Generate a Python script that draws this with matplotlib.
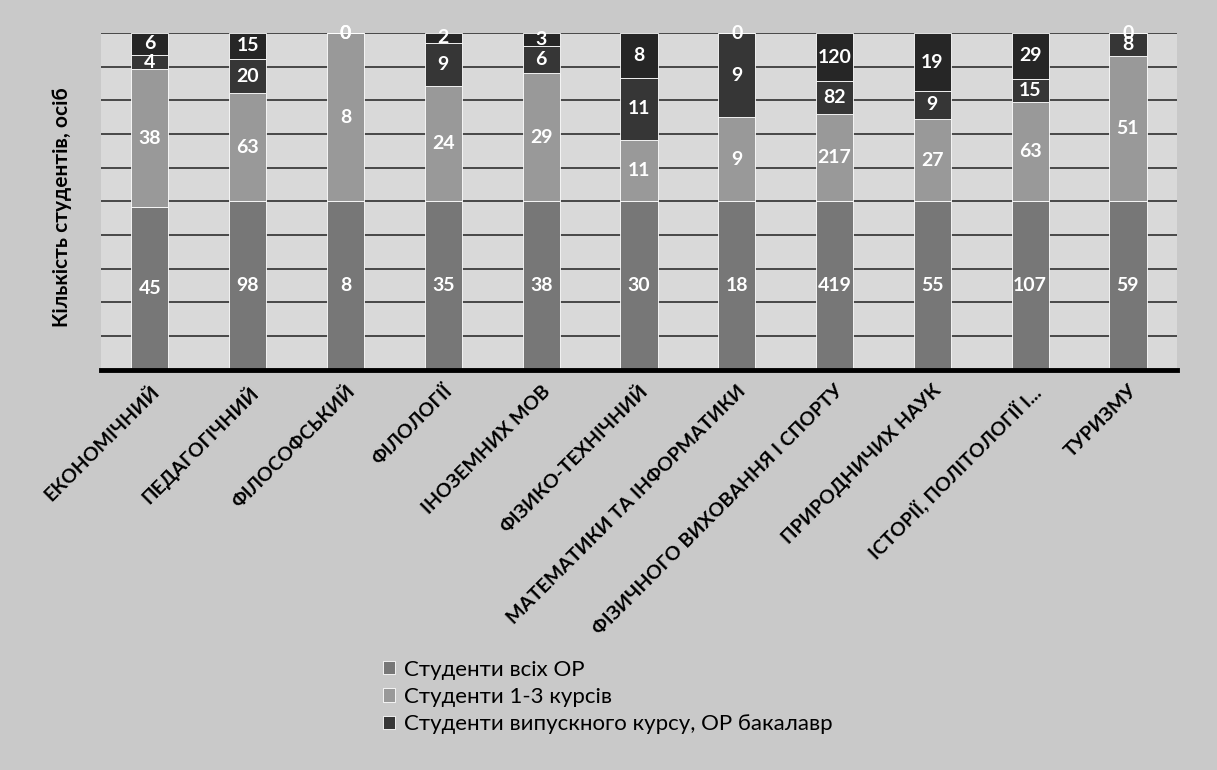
import matplotlib as mpl
mpl.use('Agg')
import matplotlib.pyplot as plt
import numpy as np

plt.rcParams['font.family'] = ['Lato', 'DejaVu Sans']

faculties = ['ЕКОНОМІЧНИЙ', 'ПЕДАГОГІЧНИЙ', 'ФІЛОСОФСЬКИЙ', 'ФІЛОЛОГІЇ',
             'ІНОЗЕМНИХ МОВ', 'ФІЗИКО-ТЕХНІЧНИЙ', 'МАТЕМАТИКИ ТА ІНФОРМАТИКИ',
             'ФІЗИЧНОГО ВИХОВАННЯ І СПОРТУ', 'ПРИРОДНИЧИХ НАУК',
             'ІСТОРІЇ, ПОЛІТОЛОГІЇ І...', 'ТУРИЗМУ']
all_op = [45, 98, 8, 35, 38, 30, 18, 419, 55, 107, 59]
courses_1_3 = [38, 63, 8, 24, 29, 11, 9, 217, 27, 63, 51]
graduates = [4, 20, 0, 9, 6, 11, 9, 82, 9, 15, 8]
graduates_top = [6, 15, 0, 2, 3, 8, 0, 120, 19, 29, 0]

series = [all_op, courses_1_3, graduates, graduates_top]
labels = ['Студенти всіх ОР', 'Студенти 1-3 курсів',
          'Студенти випускного курсу, ОР бакалавр', None]
colors = ['#777777', '#999999', '#363636', '#262626']

data = np.array(series, dtype=float)
totals = data.sum(axis=0)
shares = data / totals * 100

fig = plt.figure(figsize=(12.17, 7.7), dpi=100, facecolor='#c9c9c9')
ax = fig.add_axes([0.083, 0.52, 0.884, 0.437])
ax.set_facecolor('#d9d9d9')

x = np.arange(len(faculties))
bottom = np.zeros(len(faculties))
handles = []
for k in range(len(series)):
    bars = ax.bar(x, shares[k], 0.38, bottom=bottom, color=colors[k],
                  edgecolor='white', linewidth=0.6, zorder=3)
    if labels[k]:
        handles.append((bars, labels[k]))
    for i in range(len(x)):
        y = bottom[i] + shares[k][i] / 2
        ax.text(x[i], y, str(series[k][i]), ha='center', va='center',
                color='white', fontsize=14, fontweight='bold', zorder=4)
    bottom = bottom + shares[k]

ax.set_xlim(-0.5, len(x) - 0.5)
ax.set_ylim(0, 100)
ax.set_yticks(np.arange(0, 101, 10))
ax.set_yticklabels([])
ax.tick_params(axis='y', length=0)
ax.grid(axis='y', color='#3c3c3c', linewidth=1.3, zorder=0)
for s in ['top', 'right', 'left']:
    ax.spines[s].set_visible(False)
ax.spines['bottom'].set_linewidth(3.5)
ax.spines['bottom'].set_zorder(5)

ax.set_xticks(x)
ax.set_xticklabels(faculties, rotation=45, ha='right', rotation_mode='anchor',
                   fontsize=14, fontweight='bold')
ax.tick_params(axis='x', length=0, pad=9)

fig.text(0.051, 0.731, 'Кількість студентів, осіб', rotation=90,
         ha='center', va='center', fontsize=15, fontweight='bold')

fig.legend([h for h, _ in handles], [l for _, l in handles],
           loc='upper left', bbox_to_anchor=(0.307, 0.155), frameon=False,
           fontsize=16, handlelength=0.55, handleheight=0.55,
           handletextpad=0.4, labelspacing=0.33, borderaxespad=0)

fig.savefig('out.png', dpi=100, facecolor=fig.get_facecolor())
